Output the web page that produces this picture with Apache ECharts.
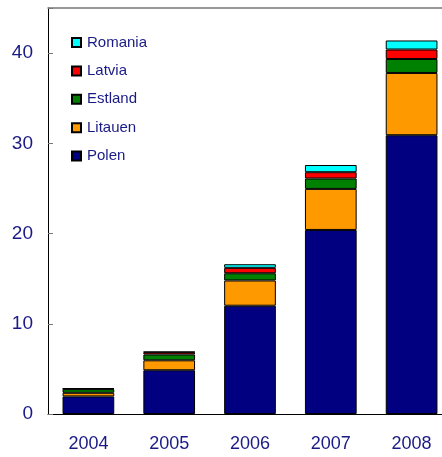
<!DOCTYPE html>
<html>
<head>
<meta charset="utf-8">
<script src="https://cdn.jsdelivr.net/npm/echarts@6/dist/echarts.min.js"></script>
<style>
  html, body { margin: 0; padding: 0; background: #fff; }
  #chart { width: 442px; height: 457px; }
</style>
</head>
<body>
<div id="chart"></div>
<script>
// Jahre
const years = ['2004', '2005', '2006', '2007', '2008'];
// Werte je Land (gestapelt)
const polen = [1.95, 4.85, 12.0, 20.4, 30.9];
const litauen = [0.4, 1.1, 2.8, 4.55, 6.9];
const estland = [0.4, 0.65, 0.8, 1.15, 1.55];
const latvia = [0.05, 0.25, 0.6, 0.7, 1.05];
const romania = [0.05, 0.05, 0.4, 0.8, 1.0];
const yTicks = [0, 10, 20, 30, 40];

const textColor = '#1a1a86';

const chart = echarts.init(document.getElementById('chart'));

function bar(name, data, color) {
  return {
    name: name,
    type: 'bar',
    stack: 'total',
    data: data,
    barCategoryGap: '36%',
    itemStyle: { color: color, borderColor: '#000', borderWidth: 1 },
  };
}

const option = {
  animation: false,
  grid: { left: 48, right: -10, top: 8, bottom: 43, outerBoundsMode: 'none', containLabel: false },
  legend: {
    orient: 'vertical',
    left: 66,
    top: 30,
    itemWidth: 9,
    itemHeight: 9,
    itemGap: 13.4,
    icon: 'rect',
    data: ['Romania', 'Latvia', 'Estland', 'Litauen', 'Polen'],
    textStyle: { color: textColor, fontSize: 15, fontFamily: 'Liberation Sans, Arial', padding: [0, 0, 0, 1] },
  },
  xAxis: [
    {
      type: 'category',
      data: years,
      axisLine: { lineStyle: { color: '#000', width: 1 } },
      axisTick: { inside: true, length: 5, lineStyle: { color: '#777' } },
      axisLabel: { color: textColor, fontSize: 18, fontFamily: 'Liberation Sans, Arial', margin: 21 },
    },
    {
      // obere Rahmenlinie
      type: 'category',
      position: 'top',
      data: years,
      axisLine: { show: true, lineStyle: { color: '#777', width: 1.5 } },
      axisTick: { show: false },
      axisLabel: { show: false },
    },
  ],
  yAxis: {
    type: 'value',
    min: 0,
    max: 45,
    interval: 10,
    axisLine: { show: true, lineStyle: { color: '#000', width: 1 } },
    axisTick: { show: true, inside: true, length: 5, lineStyle: { color: '#777' } },
    axisLabel: {
      color: textColor, fontSize: 19, fontFamily: 'Liberation Sans, Arial', margin: 15,
      formatter: v => (yTicks.indexOf(v) >= 0 ? String(v) : ''),
    },
    splitLine: { show: false },
  },
  series: [
    bar('Polen', polen, '#000080'),
    bar('Litauen', litauen, '#ff9900'),
    bar('Estland', estland, '#008000'),
    bar('Latvia', latvia, '#ff0000'),
    bar('Romania', romania, '#00ffff'),
  ],
};

chart.setOption(option);
</script>
</body>
</html>
